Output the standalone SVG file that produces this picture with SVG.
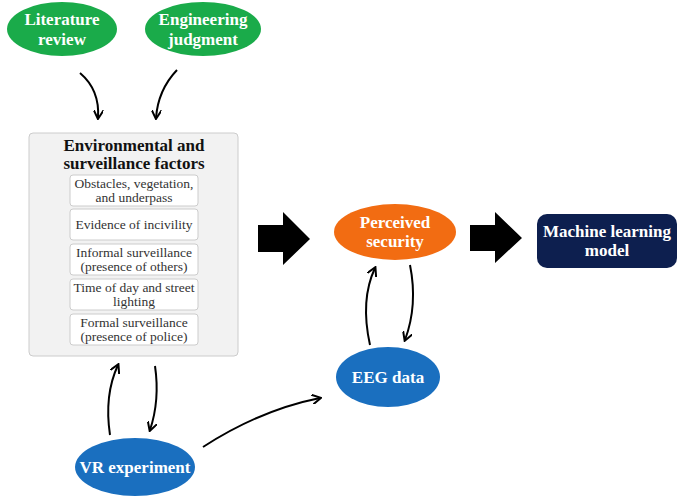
<svg xmlns="http://www.w3.org/2000/svg" width="685" height="499" viewBox="0 0 685 499">
<defs>
<marker id="ah" markerWidth="10" markerHeight="10" refX="8" refY="5" orient="auto" markerUnits="userSpaceOnUse"><path d="M0,0 L9,5 L0,10" fill="none" stroke="#000" stroke-width="2"/></marker>
<style>
.t{font-family:"Liberation Serif","DejaVu Serif",serif;font-weight:bold;fill:#fff;font-size:17px;text-anchor:middle}
.h{font-family:"Liberation Serif","DejaVu Serif",serif;font-weight:bold;fill:#111;font-size:17px;text-anchor:middle}
.s{font-family:"Liberation Serif","DejaVu Serif",serif;fill:#333;font-size:13.5px;text-anchor:middle}
.c{fill:none;stroke:#000;stroke-width:2;marker-end:url(#ah)}
.ib{fill:#fff;stroke:#ccc;stroke-width:1}
</style>
</defs>
<rect width="685" height="499" fill="#fff"/>
<g id="lit"><ellipse cx="62" cy="29" rx="55" ry="27" fill="#1aab4a"/><text class="t" x="62" y="25">Literature</text><text class="t" x="62" y="45">review</text></g>
<g id="eng"><ellipse cx="203" cy="29" rx="58" ry="27" fill="#1aab4a"/><text class="t" x="203" y="25">Engineering</text><text class="t" x="203" y="45">judgment</text></g>
<g id="factors">
<rect x="29" y="133" width="209" height="223" rx="4" fill="#f2f2f2" stroke="#ccc"/>
<text class="h" x="134" y="151">Environmental and</text>
<text class="h" x="134" y="169">surveillance factors</text>
<rect class="ib" x="70" y="175" width="128" height="31" rx="3"/><text class="s" x="134" y="188">Obstacles, vegetation,</text><text class="s" x="134" y="202">and underpass</text>
<rect class="ib" x="70" y="209" width="128" height="31" rx="3"/><text class="s" x="134" y="229">Evidence of incivility</text>
<rect class="ib" x="70" y="244" width="128" height="31" rx="3"/><text class="s" x="134" y="257">Informal surveillance</text><text class="s" x="134" y="271">(presence of others)</text>
<rect class="ib" x="70" y="279" width="128" height="31" rx="3"/><text class="s" x="134" y="292">Time of day and street</text><text class="s" x="134" y="306">lighting</text>
<rect class="ib" x="70" y="314" width="128" height="31" rx="3"/><text class="s" x="134" y="327">Formal surveillance</text><text class="s" x="134" y="341">(presence of police)</text>
</g>
<g id="perc"><ellipse cx="395" cy="232" rx="61" ry="28" fill="#f26c12"/><text class="t" x="395" y="228">Perceived</text><text class="t" x="395" y="247">security</text></g>
<g id="ml"><rect x="537" y="214" width="140" height="54" rx="10" fill="#0d1f4f"/><text class="t" x="607" y="237">Machine learning</text><text class="t" x="607" y="256">model</text></g>
<g id="eeg"><ellipse cx="388" cy="377" rx="52" ry="30" fill="#1a6fbf"/><text class="t" x="388" y="383">EEG data</text></g>
<g id="vr"><ellipse cx="135" cy="467" rx="60" ry="29" fill="#1a6fbf"/><text class="t" x="135" y="473">VR experiment</text></g>
<g id="connectors">
<path class="c" d="M80,73 Q100,90 98,118"/>
<path class="c" d="M177,70 Q158,90 156,118"/>
<path class="c" d="M110,435 Q104,395 118,365"/>
<path class="c" d="M155,366 Q160,400 150,430"/>
<path class="c" d="M203,447 Q260,410 320,398"/>
<path class="c" d="M370,345 Q360,300 375,268"/>
<path class="c" d="M410,265 Q418,305 405,340"/>
<path d="M258,225 H283 V212 L310,239 L283,265 V252 H258 Z" fill="#000"/>
<path d="M470,225 H495 V212 L522,238 L495,263 V251 H470 Z" fill="#000"/>
</g>
</svg>
